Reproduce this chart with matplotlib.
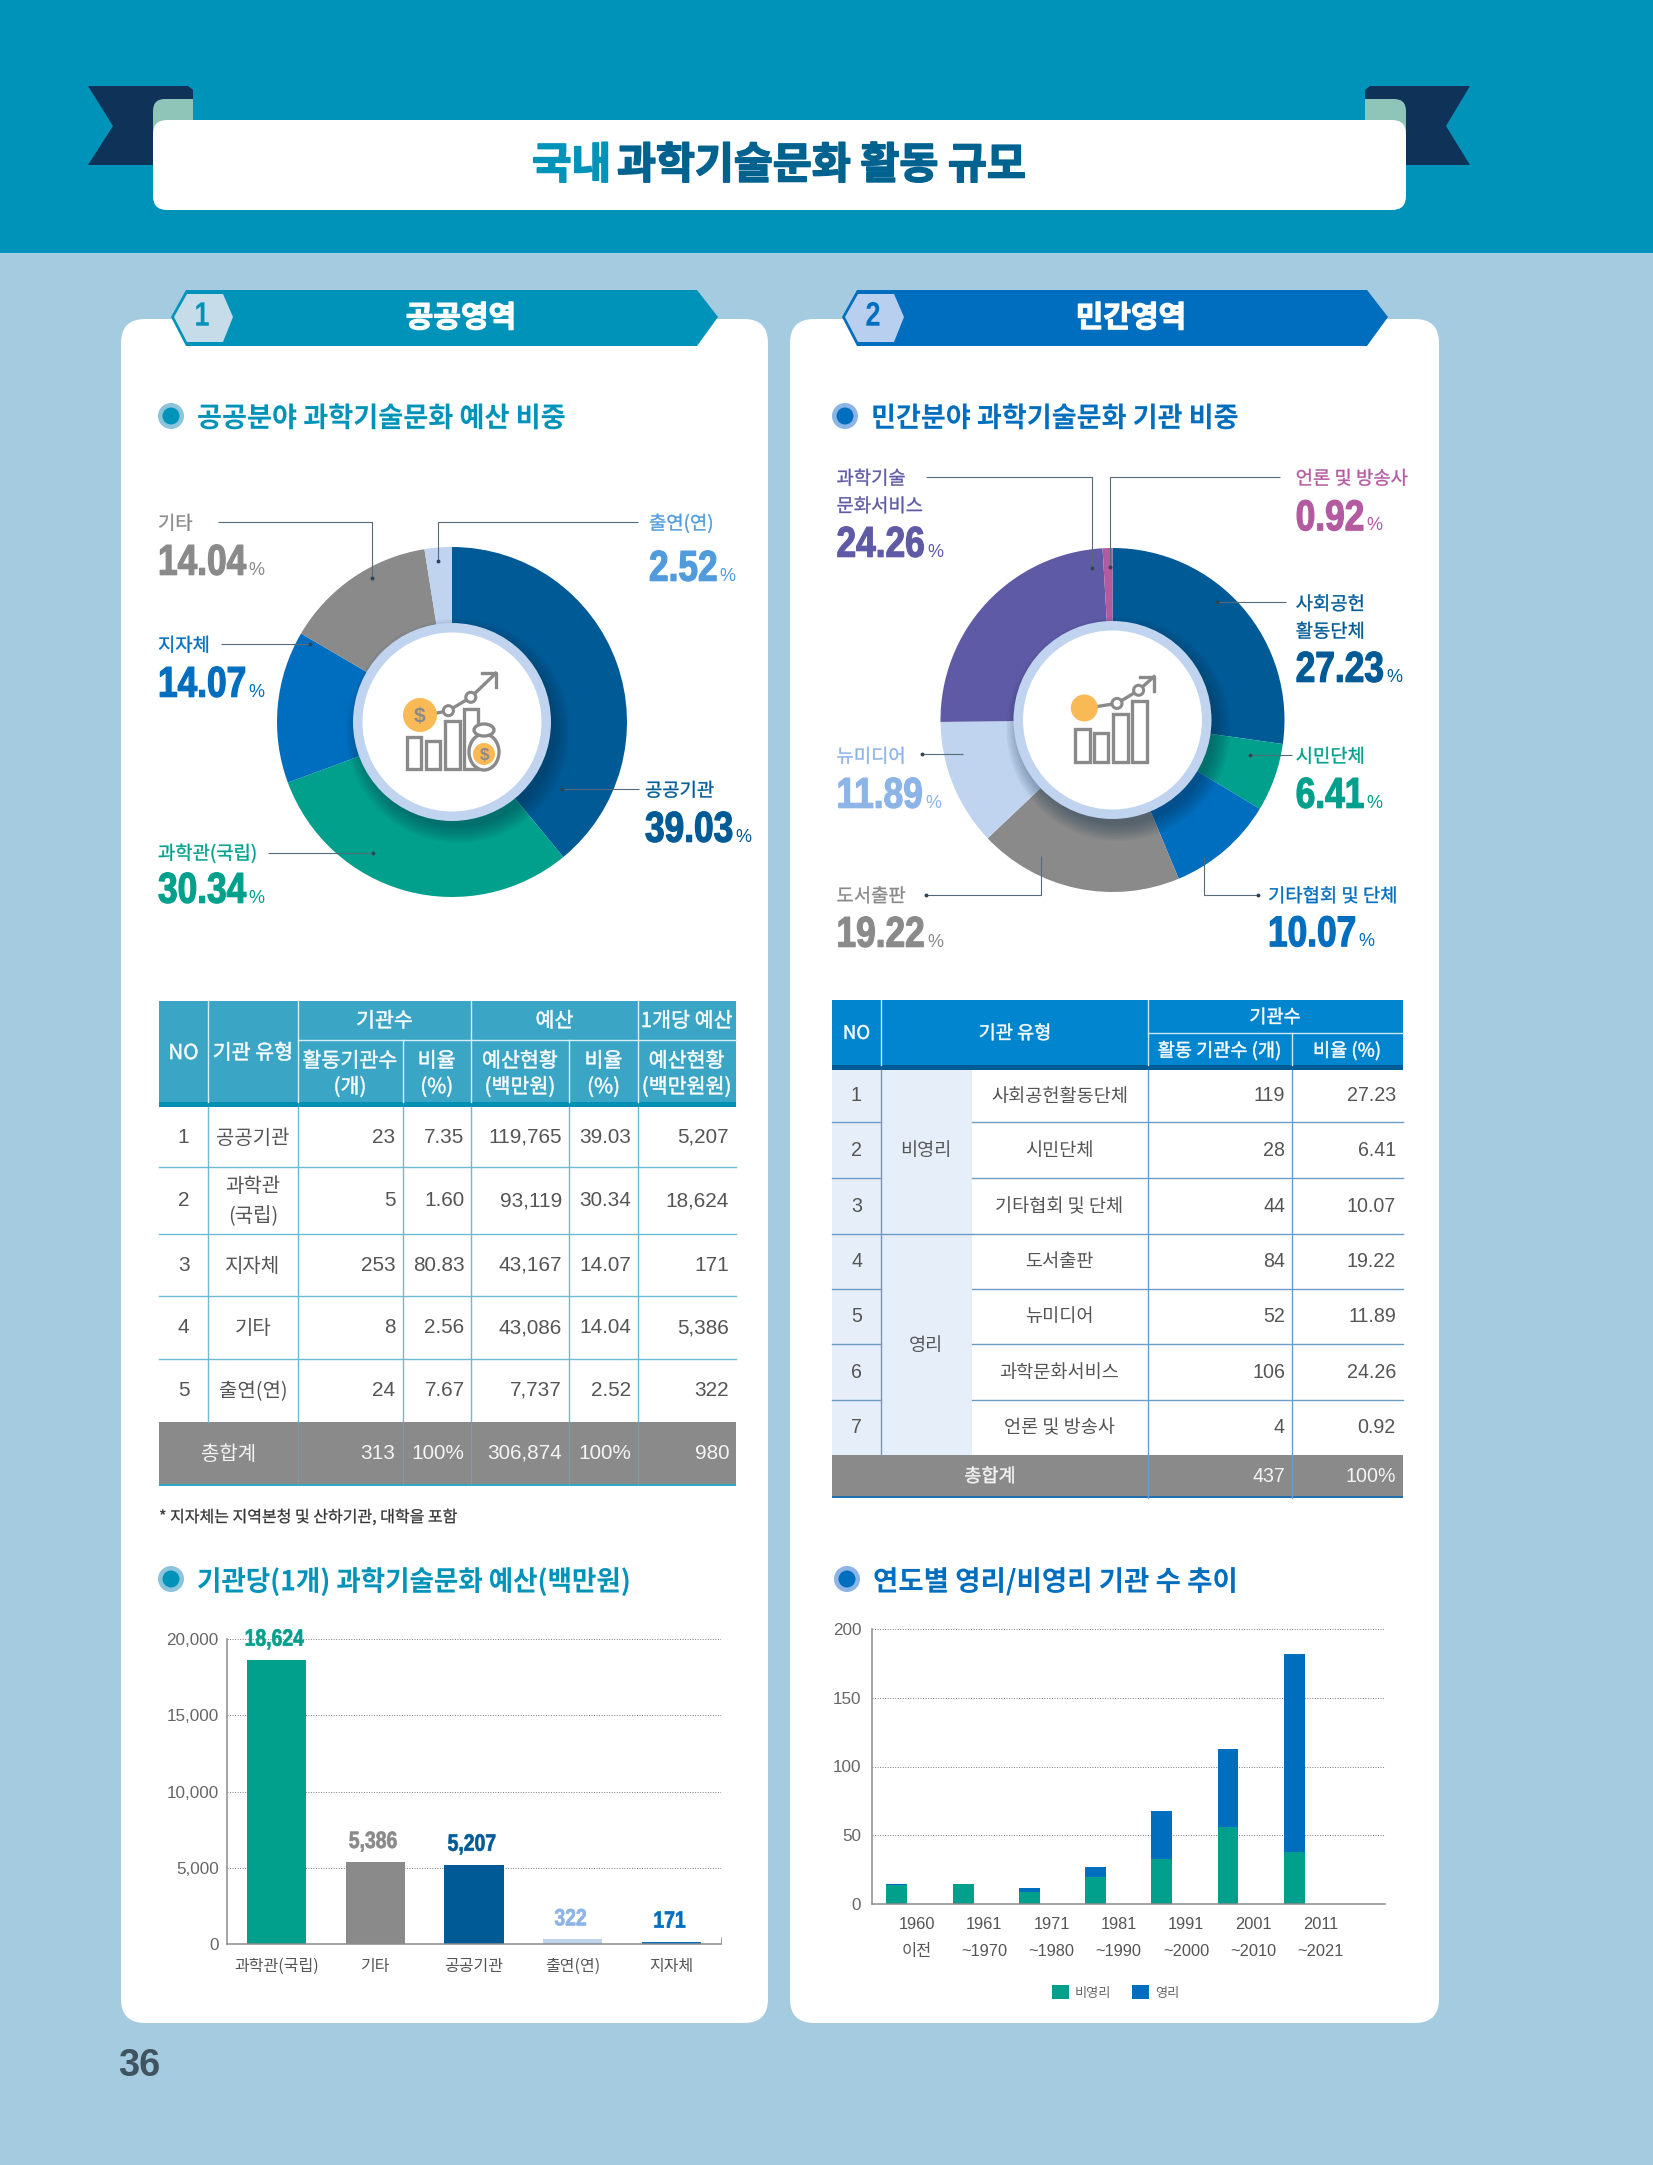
import matplotlib
matplotlib.use("Agg")
import matplotlib.pyplot as plt
from matplotlib.patches import Circle, Ellipse, FancyBboxPatch, Polygon, Rectangle
from matplotlib.patheffects import AbstractPathEffect
from matplotlib.transforms import Affine2D

W, H = 1653, 2165
KR = ["Noto Sans CJK KR", "DejaVu Sans"]
NUM = ["Liberation Sans", "Noto Sans CJK KR"]

TEAL, BLUE, NAVY, GREEN, GRAY = "#0093BA", "#006EBE", "#005A96", "#00A08C", "#8A8A8A"
PALE, PURPLE, PINK = "#C0D3EF", "#5F5AA5", "#B45AA0"

# public budget share
public_names = ["공공기관", "과학관(국립)", "지자체", "기타", "출연(연)"]
public_share = [39.03, 30.34, 14.07, 14.04, 2.52]
public_colors = [NAVY, GREEN, BLUE, GRAY, PALE]

# private institution share
private_names = ["사회공헌\n활동단체", "시민단체", "기타협회 및 단체", "도서출판", "뉴미디어", "과학기술\n문화서비스", "언론 및 방송사"]
private_share = [27.23, 6.41, 10.07, 19.22, 11.89, 24.26, 0.92]
private_colors = [NAVY, GREEN, BLUE, GRAY, PALE, PURPLE, PINK]

# public table
pub_types = ["공공기관", "과학관\n(국립)", "지자체", "기타", "출연(연)"]
pub_count = [23, 5, 253, 8, 24]
pub_count_pct = [7.35, 1.60, 80.83, 2.56, 7.67]
pub_budget = [119765, 93119, 43167, 43086, 7737]
pub_budget_pct = [39.03, 30.34, 14.07, 14.04, 2.52]
pub_per_org = [5207, 18624, 171, 5386, 322]
pub_total = ["총합계", "313", "100%", "306,874", "100%", "980"]

# private table
prv_types = ["사회공헌활동단체", "시민단체", "기타협회 및 단체", "도서출판", "뉴미디어", "과학문화서비스", "언론 및 방송사"]
prv_count = [119, 28, 44, 84, 52, 106, 4]
prv_pct = [27.23, 6.41, 10.07, 19.22, 11.89, 24.26, 0.92]
prv_groups = ["비영리", "영리"]
prv_total = ["총합계", "437", "100%"]

# budget per institution
per_names = ["과학관(국립)", "기타", "공공기관", "출연(연)", "지자체"]
per_values = [18624, 5386, 5207, 322, 171]
per_colors = [GREEN, GRAY, NAVY, PALE, BLUE]
per_label_colors = [GREEN, GRAY, NAVY, "#8CB4E6", BLUE]
per_yticks = [0, 5000, 10000, 15000, 20000]

# founding period
periods = ["1960\n이전", "1961\n~1970", "1971\n~1980", "1981\n~1990", "1991\n~2000", "2001\n~2010", "2011\n~2021"]
nonprofit = [14, 15, 9, 20, 33, 56, 38]
profit = [1, 0, 3, 7, 35, 57, 144]
period_yticks = [0, 50, 100, 150, 200]

fig = plt.figure(figsize=(W / 100, H / 100), dpi=100, facecolor="#A4CBE0")


class Squeeze(AbstractPathEffect):
    """Narrows a text around its anchor and optionally thickens the strokes."""

    def __init__(self, text, sx=1.0, bold=0.0):
        super().__init__()
        self.text = text
        self.sx = sx
        self.bold = bold

    def draw_path(self, renderer, gc, tpath, affine, rgbFace=None):
        x0 = self.text.get_transform().transform(self.text.get_position())[0]
        squeezed = affine + Affine2D().translate(-x0, 0).scale(self.sx, 1).translate(x0, 0)
        gc2 = renderer.new_gc()
        gc2.copy_properties(gc)
        if self.bold:
            gc2.set_linewidth(self.bold)
            gc2.set_foreground(rgbFace)
        renderer.draw_path(gc2, tpath, squeezed, rgbFace)
        gc2.restore()


def px_axes(x0, y0, x1, y1, zorder=1):
    ax = fig.add_axes([x0 / W, 1 - y1 / H, (x1 - x0) / W, (y1 - y0) / H], zorder=zorder)
    return ax


def page_axes(zorder):
    ax = fig.add_axes([0, 0, 1, 1], zorder=zorder)
    ax.set_xlim(0, W)
    ax.set_ylim(H, 0)
    ax.axis("off")
    return ax


bg = page_axes(0)
top = page_axes(3)


def put(ax, x, y, s, px, color="#555555", ha="left", va="center", weight="normal", family=KR, sx=1.0, bold=0.0, **kw):
    # the CJK face sits high in its line box, so centred text needs a nudge
    y = y + (px * 0.1 if family is KR else 1.2)
    t = ax.text(x, y, s, fontsize=px * 0.72, color=color, ha=ha, va=va, fontweight=weight, family=family, **kw)
    if sx != 1.0 or bold:
        t.set_path_effects([Squeeze(t, sx, bold)])
    return t


def round_box(ax, x0, y0, x1, y1, r, color, z=1):
    ax.add_patch(FancyBboxPatch((x0 + r, y0 + r), x1 - x0 - 2 * r, y1 - y0 - 2 * r,
                                boxstyle=f"round,pad={r},rounding_size={r}", fc=color, ec="none", zorder=z))


# header band and ribbon
bg.add_patch(Rectangle((0, 0), W, 253, fc=TEAL, ec="none"))
bg.add_patch(Polygon([(88, 86), (188, 86), (193, 90), (193, 165), (88, 165), (113, 126)], fc="#0F3259", ec="none"))
bg.add_patch(Polygon([(1470, 86), (1370, 86), (1365, 90), (1365, 165), (1470, 165), (1446, 126)], fc="#0F3259", ec="none"))
round_box(bg, 153, 99, 193, 140, 12, "#8FC4B8", 2)
round_box(bg, 1365, 99, 1406, 140, 12, "#8FC4B8", 2)
bg.add_patch(Rectangle((173, 99), 20, 41, fc="#8FC4B8", ec="none", zorder=2))
bg.add_patch(Rectangle((1365, 99), 20, 41, fc="#8FC4B8", ec="none", zorder=2))
round_box(bg, 153, 120, 1406, 210, 14, "white", 3)
put(bg, 532, 161, "국내", 43, TEAL, weight="bold", bold=1.2, zorder=4)
put(bg, 617, 161, "과학기술문화 활동 규모", 43, "#00628F", weight="bold", sx=0.985, bold=1.2, zorder=4)

# cards
round_box(bg, 121, 319, 768, 2023, 24, "white", 1)
round_box(bg, 790, 319, 1439, 2023, 24, "white", 1)


def banner(x0, x1, fill, hex_fill, num, title, title_x):
    bg.add_patch(Polygon([(x0 + 15, 290), (x1 - 21, 290), (x1, 317), (x1 - 21, 346), (x0 + 15, 346), (x0, 317)],
                         fc=fill, ec="none", zorder=2))
    bg.add_patch(Polygon([(x0 + 3, 317), (x0 + 16, 294), (x0 + 52, 294), (x0 + 62, 317), (x0 + 52, 342), (x0 + 16, 342)],
                         fc=hex_fill, ec="none", zorder=3))
    put(bg, x0 + 31, 316, num, 34, fill, ha="center", weight="bold", family=NUM, sx=0.8, zorder=4)
    put(bg, title_x, 315, title, 30, "white", ha="center", weight="bold", bold=0.9, zorder=4)


banner(171, 718, TEAL, "#C6DCE8", "1", "공공영역", 461)
banner(842, 1388, BLUE, "#B8CFF0", "2", "민간영역", 1131)


def heading(x, y, s, color, halo, sx):
    bg.add_patch(Ellipse((x, y), 26, 26, fc=halo, ec="none", zorder=2))
    bg.add_patch(Ellipse((x, y), 17, 17, fc=color, ec="none", zorder=3))
    put(bg, x + 26, y, s, 27.8, color, weight="bold", sx=sx, zorder=4)


heading(171, 416, "공공분야 과학기술문화 예산 비중", TEAL, "#8CC4DC", 0.978)
heading(845, 416, "민간분야 과학기술문화 기관 비중", BLUE, "#8CB4E6", 0.975)
heading(171, 1579, "기관당(1개) 과학기술문화 예산(백만원)", TEAL, "#8CC4DC", 0.954)
heading(847, 1579, "연도별 영리/비영리 기관 수 추이", BLUE, "#8CB4E6", 0.99)

put(bg, 118, 2065, "36", 38, "#3F5360", weight="bold", family=NUM)


def donut(cx, cy, r, values, colors):
    ax = px_axes(cx - r, cy - r, cx + r, cy + r)
    ax.pie(values, colors=colors, startangle=90, counterclock=False, radius=1,
           wedgeprops=dict(width=0.6, edgecolor="none"))
    ax.set_xlim(-1, 1)
    ax.set_ylim(-1, 1)


def center_disc(cx, cy):
    for i in range(9):
        top.add_patch(Circle((cx + 6, cy + 9), 112 - i * 2, fc="#0A2A45", ec="none", alpha=0.05, zorder=1))
    top.add_patch(Circle((cx, cy), 99, fc=PALE, ec="none", zorder=2))
    top.add_patch(Circle((cx, cy), 89.5, fc="white", ec="none", zorder=3))


def leader(points):
    xs, ys = zip(*points)
    top.plot(xs, ys, color="#566A78", lw=0.8, zorder=5, solid_capstyle="butt")
    top.plot(xs[-1], ys[-1], "o", color="#2F4557", ms=1.8, zorder=5)


def share_label(x, y_name, y_num, name, value, color, num_color=None):
    lines = name.split("\n")
    for i, line in enumerate(lines):
        put(top, x, y_name + i * 27.5, line, 18.8, color, bold=0.25, zorder=6)
    num_color = num_color or color
    sx = 0.82
    t = put(top, x, y_num + 1.5, f"{value:.2f}", 43, num_color, weight="bold", family=NUM, sx=sx, bold=0.9, zorder=6)
    top.annotate("%", xy=(sx, 0), xycoords=t, xytext=(1.5, 6.4), textcoords="offset points",
                 fontsize=13, color=num_color, family=NUM, va="baseline", ha="left", zorder=6)


donut(452, 722, 175, public_share, public_colors)
center_disc(452, 722)
donut(1112.5, 720, 172, private_share, private_colors)
center_disc(1112.5, 720)

leader([(639, 789), (562, 789)])
leader([(268, 853), (372.5, 853)])
leader([(221, 644), (310, 644)])
leader([(218, 522), (372, 522), (372, 578)])
leader([(638, 522), (437.6, 522), (437.6, 561)])

pub_label_pos = [(645, 789, 828), (158, 852, 889), (158, 644, 683), (158, 522, 561), (649, 522, 567)]
pub_label_colors = [NAVY, GREEN, BLUE, GRAY, "#4F9BDC"]
for (x, yn, yv), n, v, c in zip(pub_label_pos, public_names, public_share, pub_label_colors):
    share_label(x, yn, yv, n, v, c)

leader([(1286, 602), (1217.3, 602)])
leader([(1291.6, 755), (1250, 755)])
leader([(1203.5, 856.7), (1203.5, 895), (1258, 895)])
leader([(1040.6, 856), (1040.6, 895), (926, 895)])
leader([(963, 754.4), (922, 754.4)])
leader([(926, 477), (1092.4, 477), (1092.4, 568)])
leader([(1280, 477), (1110.4, 477), (1110.4, 567.4)])

prv_label_pos = [(1295.7, 602.5, 668), (1295.7, 755, 794), (1268, 894.5, 932.5), (836.5, 894.5, 933),
                 (836.5, 755, 794), (836.5, 477, 543), (1295.7, 477, 516.5)]
prv_label_colors = [NAVY, GREEN, BLUE, GRAY, "#8CB4E6", PURPLE, PINK]
for (x, yn, yv), n, v, c in zip(prv_label_pos, private_names, private_share, prv_label_colors):
    share_label(x, yn, yv, n, v, c)


def icon_bars(boxes):
    for x0, y0, x1, y1 in boxes:
        top.add_patch(Rectangle((x0, y0), x1 - x0, y1 - y0, fc="white", ec=GRAY, lw=2.4, zorder=7))


def icon_trend(pts):
    xs, ys = zip(*pts)
    top.plot(xs, ys, color=GRAY, lw=2.4, zorder=7)
    for p in pts[1:3]:
        top.add_patch(Circle(p, 5, fc="white", ec=GRAY, lw=2.2, zorder=8))
    ex, ey = pts[-1]
    top.plot([ex - 14, ex, ex], [ey, ey, ey + 14], color=GRAY, lw=2.4, zorder=8)


# left icon
icon_bars([(407, 737, 421, 769), (426, 741, 440, 769), (445, 721, 459.6, 769), (463.7, 709, 478, 769)])
icon_trend([(432, 714), (448.4, 710.7), (470.8, 697.3), (495.7, 673.3)])
top.add_patch(Circle((420, 715), 17, fc="#F9B955", ec="none", zorder=8))
put(top, 420, 715, "$", 21, GRAY, ha="center", weight="bold", family=NUM, zorder=9)
top.add_patch(Ellipse((484, 752), 30, 36, fc="white", ec=GRAY, lw=2.4, zorder=8))
top.add_patch(Ellipse((484, 730), 20, 12, fc="white", ec=GRAY, lw=2.4, zorder=8))
top.add_patch(Circle((484, 754), 11, fc="#F9B955", ec="none", zorder=9))
put(top, 484, 754, "$", 17, GRAY, ha="center", weight="bold", family=NUM, zorder=10)

# right icon
icon_bars([(1075.3, 729, 1089.6, 762), (1094, 732.7, 1108, 762), (1112.9, 713.8, 1127.6, 762), (1131.6, 700.7, 1146.7, 762)])
icon_trend([(1097, 706.5), (1117, 703.4), (1138.6, 690.3), (1154, 676.6)])
top.add_patch(Circle((1084.3, 708), 13.5, fc="#F9B955", ec="none", zorder=8))

# public table
pub_x = [159, 208, 298, 402.5, 471, 569, 638, 735.5]
pub_y = [1107, 1167, 1234, 1296, 1359, 1421.5]
GRID1 = "#6DBBD2"
top.add_patch(Rectangle((159, 1001), 576.5, 101, fc="#3BA5C6", ec="none", zorder=1))
top.add_patch(Rectangle((159, 1102), 576.5, 5, fc="#0090B4", ec="none", zorder=1))
top.add_patch(Rectangle((159, 1421.5), 576.5, 62.5, fc=GRAY, ec="none", zorder=1))
top.add_patch(Rectangle((159, 1484), 576.5, 2, fc="#2FA8C8", ec="none", zorder=2))
for x in pub_x[1:-1]:
    top.plot([x, x], [1107, 1421.5], color=GRID1, lw=1, zorder=2)
for x in [298, 402.5, 471, 569, 638]:
    top.plot([x, x], [1421.5, 1484], color="#7F9AA4", lw=0.8, zorder=2)
for y in pub_y[1:-1]:
    top.plot([159, 735.5], [y, y], color=GRID1, lw=1, zorder=2)
for x, y0 in [(208, 1001), (298, 1001), (471, 1001), (638, 1001), (402.5, 1040), (569, 1040)]:
    top.plot([x, x], [y0, 1102], color="#D8EEF4", lw=1, zorder=2)
top.plot([298, 735.5], [1040, 1040], color="#D8EEF4", lw=1, zorder=2)

hd = dict(px=20.6, color="white", ha="center", weight="medium", bold=0.35, zorder=6)
put(top, 183.5, 1051, "NO", **hd)
put(top, 253, 1051, "기관 유형", **hd)
for x, s in [(384.5, "기관수"), (554.5, "예산"), (686.7, "1개당 예산")]:
    put(top, x, 1019, s, **hd)
for x, a, b in [(350, "활동기관수", "(개)"), (436.7, "비율", "(%)"), (520, "예산현황", "(백만원)"),
                (603.5, "비율", "(%)"), (686.7, "예산현황", "(백만원원)")]:
    put(top, x, 1059, a, **hd)
    put(top, x, 1085, b, **hd)

for i in range(len(pub_types)):
    yc = (pub_y[i] + pub_y[i + 1]) / 2 - 1
    put(top, 183.5, yc, str(i + 1), 20.8, ha="center", family=NUM, zorder=6)
    if "\n" in pub_types[i]:
        a, b = pub_types[i].split("\n")
        put(top, 253, yc - 15, a, 20, ha="center", zorder=6)
        put(top, 253, yc + 15, b, 20, ha="center", zorder=6)
    else:
        put(top, 253, yc, pub_types[i], 20, ha="center", zorder=6)
    cells = [str(pub_count[i]), f"{pub_count_pct[i]:.2f}", f"{pub_budget[i]:,}", f"{pub_budget_pct[i]:.2f}", f"{pub_per_org[i]:,}"]
    for x, s in zip([395.5, 464.5, 562, 631, 729], cells):
        put(top, x, yc, s, 20.8, ha="right", family=NUM, zorder=6)

put(top, 228.5, 1452, pub_total[0], 20, "#F4F4F4", ha="center", zorder=6)
for x, s in zip([395.5, 464.5, 562, 631, 729], pub_total[1:]):
    put(top, x, 1452, s, 20.8, "#F4F4F4", ha="right", family=NUM, zorder=6)
put(top, 159, 1516, "* 지자체는 지역본청 및 산하기관, 대학을 포함", 16, "#333333", weight="medium", bold=0.2, zorder=6)

# private table
prv_y = [1069.5, 1122, 1178, 1234, 1289, 1344, 1400, 1455]
GRID2 = "#6C9CC4"
top.add_patch(Rectangle((832, 1000), 570.5, 65, fc="#0085CE", ec="none", zorder=1))
top.add_patch(Rectangle((832, 1065), 570.5, 4.5, fc=NAVY, ec="none", zorder=1))
top.add_patch(Rectangle((832, 1069.5), 139.5, 385.5, fc="#E6EEFA", ec="none", zorder=1))
top.add_patch(Rectangle((832, 1455), 570.5, 41, fc=GRAY, ec="none", zorder=1))
top.add_patch(Rectangle((832, 1496), 570.5, 2, fc="#1F6FAF", ec="none", zorder=2))
for i, y in enumerate(prv_y[1:-1]):
    top.plot([832, 881], [y, y], color=GRID2, lw=1, zorder=2)
    top.plot([971.5, 1402.5], [y, y], color=GRID2, lw=1, zorder=2)
top.plot([881, 971.5], [1234, 1234], color=GRID2, lw=1, zorder=2)
for x in [881, 1147.6, 1291.5]:
    top.plot([x, x], [1069.5, 1498 if x > 900 else 1455], color=GRID2, lw=1, zorder=2)
for x, y0 in [(881, 1000), (1147.6, 1000), (1291.5, 1033)]:
    top.plot([x, x], [y0, 1065], color="#CFE6F6", lw=1, zorder=2)
top.plot([1147.6, 1402.5], [1033, 1033], color="#CFE6F6", lw=1, zorder=2)

hd2 = dict(px=18.6, color="white", ha="center", weight="medium", bold=0.35, zorder=6)
put(top, 856.5, 1032, "NO", **hd2)
put(top, 1015, 1032, "기관 유형", **hd2)
put(top, 1275, 1016, "기관수", **hd2)
put(top, 1219.5, 1049, "활동 기관수 (개)", **hd2)
put(top, 1347, 1049, "비율 (%)", **hd2)

for i in range(len(prv_types)):
    yc = (prv_y[i] + prv_y[i + 1]) / 2 - 1
    put(top, 856.5, yc, str(i + 1), 19.6, ha="center", family=NUM, zorder=6)
    put(top, 1059.5, yc, prv_types[i], 18.6, ha="center", zorder=6)
    put(top, 1285, yc, str(prv_count[i]), 19.6, ha="right", family=NUM, zorder=6)
    put(top, 1396, yc, f"{prv_pct[i]:.2f}", 19.6, ha="right", family=NUM, zorder=6)
put(top, 926, 1149, prv_groups[0], 18.6, ha="center", zorder=6)
put(top, 926, 1344, prv_groups[1], 18.6, ha="center", zorder=6)
put(top, 990, 1475, prv_total[0], 18.6, "#F4F4F4", ha="center", weight="medium", bold=0.3, zorder=6)
put(top, 1285, 1475, prv_total[1], 19.6, "#F4F4F4", ha="right", family=NUM, zorder=6)
put(top, 1396, 1475, prv_total[2], 19.6, "#F4F4F4", ha="right", family=NUM, zorder=6)


def style_axis(ax):
    ax.patch.set_alpha(0)
    for side in ["top", "right"]:
        ax.spines[side].set_visible(False)
    for side in ["left", "bottom"]:
        ax.spines[side].set_color("#8C8C8C")
        ax.spines[side].set_linewidth(1.1)
    ax.yaxis.grid(True, color="#7A7A7A", lw=0.7, ls=(0, (1, 1.6)))
    ax.set_axisbelow(True)


# budget per institution bars
ax = px_axes(227, 1638.7, 721, 1944.3)
style_axis(ax)
ax.bar(range(len(per_values)), per_values, width=0.6, color=per_colors)
ax.set_xlim(-0.5, 4.5)
ax.set_ylim(0, 20000)
ax.set_yticks(per_yticks, [f"{v:,}" for v in per_yticks], fontsize=12.3, color="#666666", family=NUM)
ax.set_xticks(range(len(per_names)), per_names, fontsize=11.5, color="#555555", family=KR)
ax.set_xticks([4.5], minor=True)
ax.tick_params(axis="both", which="major", length=0)
ax.tick_params(axis="x", which="minor", direction="in", length=5, color="#8C8C8C")
ax.tick_params(axis="x", which="major", pad=10)
ax.tick_params(axis="y", which="major", pad=6)
for i, (v, c) in enumerate(zip(per_values, per_label_colors)):
    lab = ax.annotate(f"{v:,}", (i, v), xytext=(-1.5, 6.5), textcoords="offset points", ha="center", va="bottom",
                      fontsize=17, fontweight="bold", color=c, family=NUM, annotation_clip=False)
    lab.set_path_effects([Squeeze(lab, 0.82, 0.5)])

# founding period stacked bars
ax = px_axes(872.4, 1628.7, 1385, 1904.3)
style_axis(ax)
bar_x = [i * 0.985 - 0.3 for i in range(len(periods))]
ax.bar(bar_x, nonprofit, width=0.31, color=GREEN, label="비영리")
ax.bar(bar_x, profit, width=0.31, bottom=nonprofit, color=BLUE, label="영리")
ax.set_xlim(-0.664, 6.96)
ax.set_ylim(0, 200)
ax.set_yticks(period_yticks, [str(v) for v in period_yticks], fontsize=12.3, color="#666666", family=NUM)
ax.set_xticks(range(len(periods)), periods, fontsize=11.8, color="#555555", family=NUM, linespacing=2.0)
ax.tick_params(axis="both", length=0)
ax.tick_params(axis="x", pad=9)
ax.tick_params(axis="y", pad=8)
leg = ax.legend(loc="center left", bbox_to_anchor=(1052 / W, 1 - 1992.5 / H), bbox_transform=fig.transFigure, ncol=2,
                frameon=False, borderpad=0, borderaxespad=0, handlelength=1.3, handleheight=1.25,
                handletextpad=0.45, columnspacing=1.55, prop=dict(family=KR, size=9.5), labelcolor="#666666")

fig.savefig("out.png", dpi=100, facecolor=fig.get_facecolor())
